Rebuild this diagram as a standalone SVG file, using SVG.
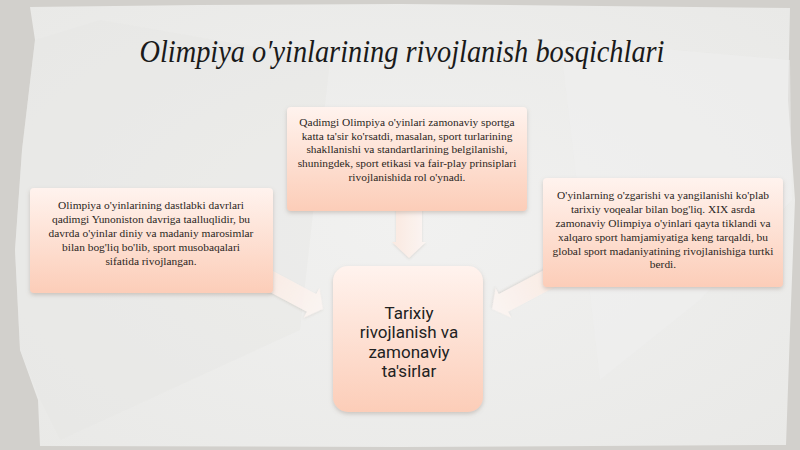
<svg xmlns="http://www.w3.org/2000/svg" width="800" height="450" viewBox="0 0 800 450">
<defs>
<style>
.body{font-family:"Liberation Serif","Times New Roman",serif;font-size:11.4px;fill:#2b2622;text-anchor:middle}
.center{font-family:Roboto,"Open Sans",sans-serif;font-size:17px;fill:#222;text-anchor:middle}
.title{font-family:"Liberation Serif",serif;font-style:italic;font-size:31px;fill:#1a1a1a;text-anchor:middle}
.box{fill:url(#boxGrad);filter:url(#shadow)}
.arrow{fill:url(#arrGrad);filter:url(#ashadow);opacity:0.85}
</style>
<linearGradient id="boxGrad" x1="0" y1="0" x2="0" y2="1">
<stop offset="0" stop-color="#fff3ee"/>
<stop offset="1" stop-color="#fccdb8"/>
</linearGradient>
<linearGradient id="arrGrad" x1="0" y1="0" x2="1" y2="0">
<stop offset="0" stop-color="#fce8de"/>
<stop offset="1" stop-color="#fdf6f3"/>
</linearGradient>
<radialGradient id="paper" cx="0.5" cy="0.5" r="0.7">
<stop offset="0" stop-color="#f1f1f0"/>
<stop offset="1" stop-color="#e9e9e7"/>
</radialGradient>
<filter id="shadow" x="-10%" y="-10%" width="120%" height="130%">
<feDropShadow dx="0" dy="2" stdDeviation="2" flood-color="#8a7a70" flood-opacity="0.35"/>
</filter>
<filter id="ashadow" x="-20%" y="-20%" width="140%" height="140%">
<feDropShadow dx="0" dy="1.2" stdDeviation="0.8" flood-color="#a09890" flood-opacity="0.3"/>
</filter>
</defs>

<g id="background">
<rect x="0" y="0" width="800" height="450" fill="#d2d0cc"/>
<polygon fill="url(#paper)" points="30,7 200,5 400,4 600,6 790,8 788,100 795,200 790,330 786,445 400,447 40,446 38,400 20,350 15,250 22,150 35,40"/>
<polygon fill="#e6e6e4" opacity="0.4" points="100,20 330,60 300,330 60,440 40,400 20,350 15,250 22,150 35,40"/>
<polygon fill="#f0f0ef" opacity="0.5" points="560,40 790,60 792,200 700,300 600,380"/>
</g>

<g id="title">
<text class="title" x="402" y="62" textLength="525" lengthAdjust="spacingAndGlyphs">Olimpiya o′yinlarining rivojlanish bosqichlari</text>
</g>

<g id="connectors">
<polygon class="arrow" points="396,205 422,205 422,242 426,242 409,258 392,242 396,242"/>
<g transform="translate(323,309) rotate(28)">
<polygon class="arrow" points="-90,-10 -13,-10 -13,-17 0,0 -13,17 -13,10 -90,10"/>
</g>
<g transform="translate(492,309) rotate(152)">
<polygon class="arrow" points="-90,-10 -13,-10 -13,-17 0,0 -13,17 -13,10 -90,10"/>
</g>
</g>

<g id="node-top">
<rect class="box" x="287" y="107" width="240" height="104" rx="4"/>
<text class="body" x="407" y="126">Qadimgi Olimpiya o'yinlari zamonaviy sportga</text>
<text class="body" x="407" y="140">katta ta'sir ko'rsatdi, masalan, sport turlarining</text>
<text class="body" x="407" y="153">shakllanishi va standartlarining belgilanishi,</text>
<text class="body" x="407" y="167">shuningdek, sport etikasi va fair-play prinsiplari</text>
<text class="body" x="407" y="181">rivojlanishida rol o'ynadi.</text>
</g>

<g id="node-left">
<rect class="box" x="30" y="188" width="243" height="105" rx="4"/>
<text class="body" x="151" y="209">Olimpiya o'yinlarining dastlabki davrlari</text>
<text class="body" x="151" y="223">qadimgi Yunoniston davriga taalluqlidir, bu</text>
<text class="body" x="151" y="237">davrda o'yinlar diniy va madaniy marosimlar</text>
<text class="body" x="151" y="251">bilan bog'liq bo'lib, sport musobaqalari</text>
<text class="body" x="151" y="265">sifatida rivojlangan.</text>
</g>

<g id="node-right">
<rect class="box" x="543" y="178" width="240" height="109" rx="4"/>
<text class="body" x="663" y="199">O'yinlarning o'zgarishi va yangilanishi ko'plab</text>
<text class="body" x="663" y="213">tarixiy voqealar bilan bog'liq. XIX asrda</text>
<text class="body" x="663" y="227">zamonaviy Olimpiya o'yinlari qayta tiklandi va</text>
<text class="body" x="663" y="241">xalqaro sport hamjamiyatiga keng tarqaldi, bu</text>
<text class="body" x="663" y="255">global sport madaniyatining rivojlanishiga turtki</text>
<text class="body" x="663" y="268">berdi.</text>
</g>

<g id="node-center">
<rect class="box" x="333" y="266" width="150" height="146" rx="15"/>
<text class="center" x="409" y="319">Tarixiy</text>
<text class="center" x="409" y="338">rivojlanish va</text>
<text class="center" x="409" y="358">zamonaviy</text>
<text class="center" x="409" y="377">ta'sirlar</text>
</g>
</svg>
